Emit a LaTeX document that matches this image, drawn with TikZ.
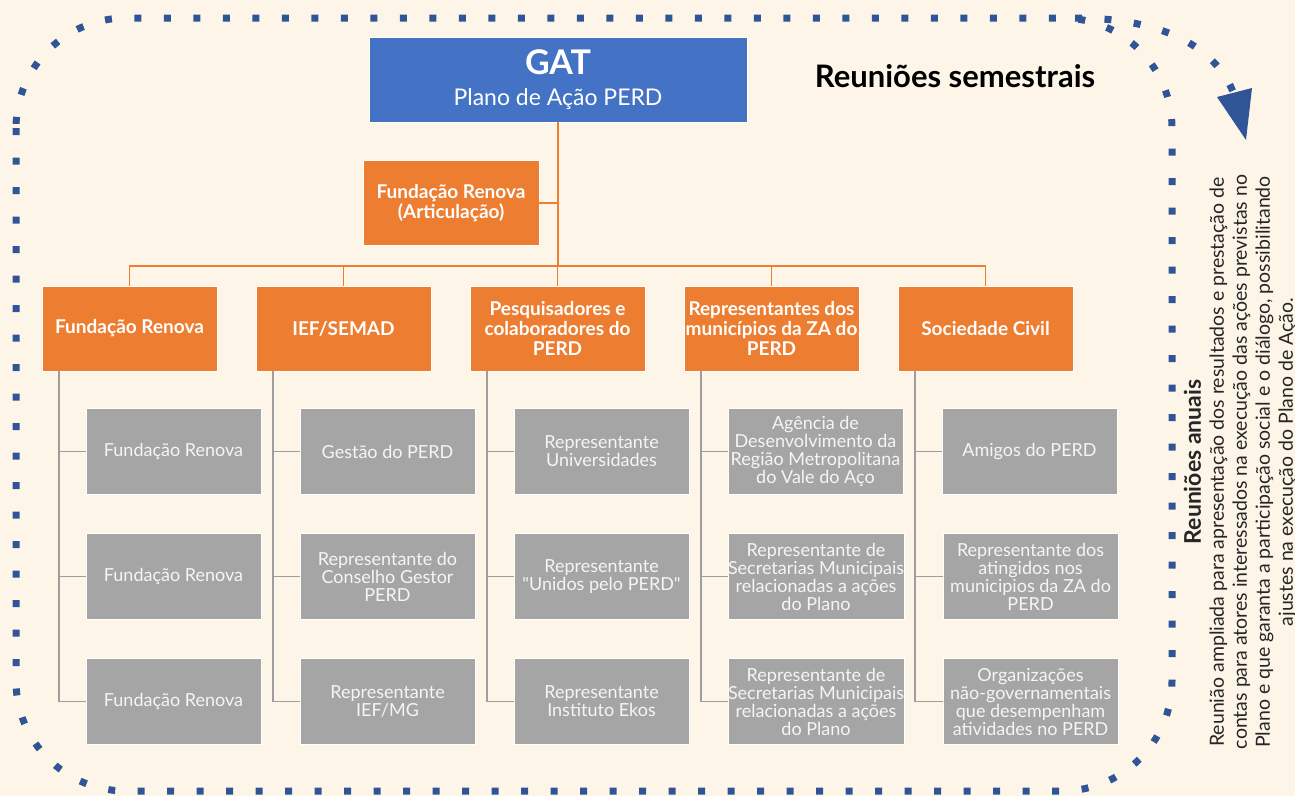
\documentclass[tikz,border=0pt]{standalone}
\usepackage{fontspec}
\setmainfont{Lato}[Ligatures=TeXOff]
\usetikzlibrary{positioning}
\definecolor{gtBlue}{RGB}{68,114,196}
\definecolor{gtOrange}{RGB}{237,125,49}
\definecolor{gtGray}{RGB}{165,165,165}
\definecolor{gtLine}{RGB}{158,158,158}
\definecolor{gtDot}{RGB}{47,85,151}
\definecolor{gtCream}{RGB}{253,246,232}
\definecolor{gtText}{RGB}{245,245,245}
\tikzset{
    base/.style={align=center, inner sep=0pt, outer sep=0pt},
    head/.style={base, rectangle, draw=white, line width=1pt, fill=gtBlue, text=white,
                 minimum width=378pt, minimum height=85pt},
    branch/.style={base, rectangle, draw=white, line width=1pt, fill=gtOrange, text=white,
                   font=\fontsize{19}{20}\selectfont\bfseries,
                   minimum width=175pt, minimum height=85pt},
    member/.style={base, rectangle, draw=white, line width=0.8pt, fill=gtGray, text=gtText,
                   font=\fontsize{18}{18}\selectfont, minimum width=175pt, minimum height=86pt},
    link/.style={gtOrange, line width=1.8pt},
    tree/.style={gtLine, line width=1.8pt},
    border/.style={gtDot, line width=7pt, dash pattern=on 7pt off 22.5pt}
}

\begin{document}
\begin{tikzpicture}[x=1pt, y=-1pt, node distance=39pt]
  % canvas
  \fill[gtCream] (0,0) rectangle (1295,796);
  \useasboundingbox (0,0) rectangle (1295,796);

  % dotted meeting cycle
  \draw[border, rounded corners=110pt] (16,18) rectangle (1172,791);
  \coordinate (arcstart) at (1075,18);
  \coordinate (arcend) at (1236,100);
  \draw[border] (arcstart) .. controls (1175,18) and (1222,55) .. (arcend);
  \fill[gtDot] (1217,97) -- (1252,88) -- (1246,140) -- cycle;

  % top of the structure
  \node[head] (gat) at (558,79.5) {{\fontsize{34}{36}\selectfont\bfseries GAT}\\[13pt]
    {\fontsize{23}{24}\selectfont Plano de Ação PERD}};
  \node[branch, minimum width=176pt] (art) at (451,203) {Fundação Renova\\(Articulação)};

  % groups
  \node[branch] (c1) at (129.5,328.5) {Fundação Renova};
  \node[branch, right=of c1] (c2) {IEF/SEMAD};
  \node[branch, right=of c2] (c3) {Pesquisadores e\\colaboradores do\\PERD};
  \node[branch, right=of c3] (c4) {Representantes dos\\municípios da ZA do\\PERD};
  \node[branch, right=of c4] (c5) {Sociedade Civil};

  % members
  \node[member] (s11) at (173.5,451.5) {Fundação Renova};
  \node[member, below=of s11] (s12) {Fundação Renova};
  \node[member, below=of s12] (s13) {Fundação Renova};

  \node[member, right=of s11] (s21) {Gestão do PERD};
  \node[member, right=of s12] (s22) {Representante do\\Conselho Gestor\\PERD};
  \node[member, right=of s13] (s23) {Representante\\IEF/MG};

  \node[member, right=of s21] (s31) {Representante\\Universidades};
  \node[member, right=of s22] (s32) {Representante\\"Unidos pelo PERD"};
  \node[member, right=of s23] (s33) {Representante\\Instituto Ekos};

  \node[member, right=of s31] (s41) {Agência de\\Desenvolvimento da\\Região Metropolitana\\do Vale do Aço};
  \node[member, right=of s32] (s42) {Representante de\\Secretarias Municipais\\relacionadas a ações\\do Plano};
  \node[member, right=of s33] (s43) {Representante de\\Secretarias Municipais\\relacionadas a ações\\do Plano};

  \node[member, right=of s41] (s51) {Amigos do PERD};
  \node[member, right=of s42] (s52) {Representante dos\\atingidos nos\\municipios da ZA do\\PERD};
  \node[member, right=of s43] (s53) {Organizações\\não-governamentais\\que desempenham\\atividades no PERD};

  % orange links
  \coordinate (busy) at (0,266);
  \coordinate (hub) at (gat.south |- busy);
  \draw[link] (gat.south) -- (hub);
  \draw[link] (art.east) -- (art.east -| gat.south);
  \draw[link] (c1.north) |- (hub) -| (c5.north);
  \foreach \n in {2,3,4}
    \draw[link] (c\n.north) -- (c\n.north |- hub);

  % gray links
  \foreach \n in {1,...,5} {
    \coordinate (t\n) at ([xshift=17pt]c\n.south west);
    \draw[tree] (t\n) |- (s\n3.west);
    \foreach \r in {1,2}
      \draw[tree] (t\n |- s\n\r.west) -- (s\n\r.west);
  }

  % labels
  \node[font=\fontsize{31}{34}\selectfont\bfseries] (semestral) at (955,76) {Reuniões semestrais};
  \node[rotate=90, align=center, text=black!85, font=\fontsize{19.5}{23}\selectfont] (anual) at (1240,462)
    {{\fontsize{23}{25}\selectfont\bfseries Reuniões anuais}\\
     Reunião ampliada para apresentação dos resultados e prestação de\\
     contas para atores interessados na execução das ações previstas no\\
     Plano e que garanta a participação social e o diálogo, possibilitando\\
     ajustes na execução do Plano de Ação.};
\end{tikzpicture}
\end{document}
